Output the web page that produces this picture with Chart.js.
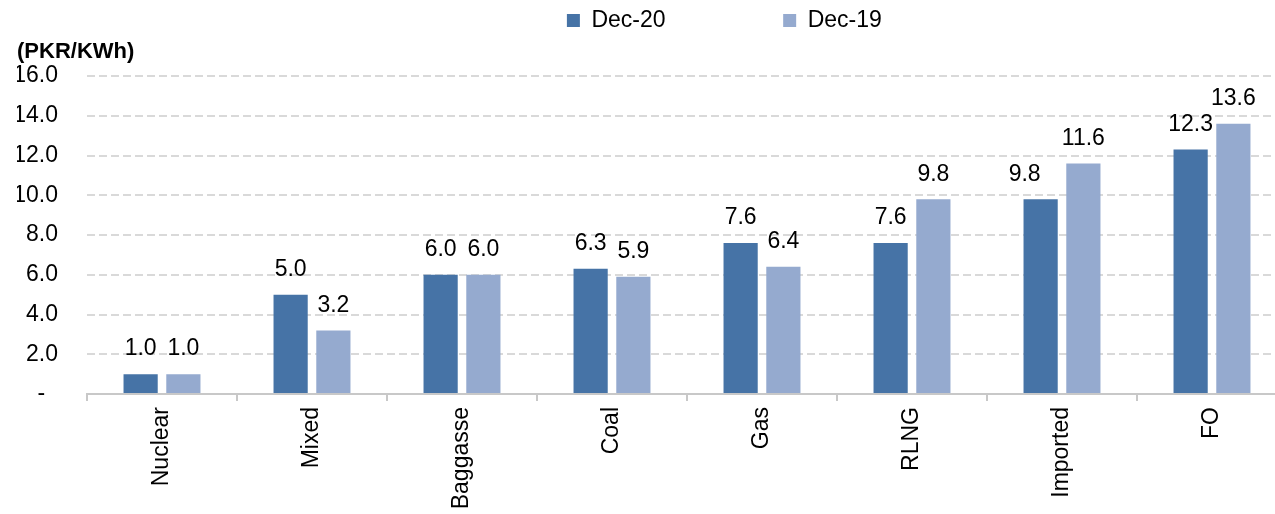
<!DOCTYPE html>
<html>
<head>
<meta charset="utf-8">
<script src="https://cdn.jsdelivr.net/npm/chart.js@4/dist/chart.umd.min.js"></script>
<style>
  html, body { margin: 0; padding: 0; background: #fff; overflow: hidden; }
  #wrap { width: 1287px; height: 514px; }
</style>
</head>
<body>
<div id="wrap"><canvas id="c" width="1287" height="514"></canvas></div>
<script>
const categories = ['Nuclear', 'Mixed', 'Baggasse', 'Coal', 'Gas', 'RLNG', 'Imported', 'FO'];
const seriesNames = ['Dec-20', 'Dec-19'];
const dec20 = [1.0, 5.0, 6.0, 6.3, 7.6, 7.6, 9.8, 12.3];
const dec19 = [1.0, 3.2, 6.0, 5.9, 6.4, 9.8, 11.6, 13.6];
const yTickLabels = ['-', '2.0', '4.0', '6.0', '8.0', '10.0', '12.0', '14.0', '16.0'];
const unitLabel = '(PKR/KWh)';

const FONT = 'Liberation Sans, Arial, sans-serif';
const FS = 23;
const darkBlue = '#4673A6';
const lightBlue = '#95AACF';

const valueLabels = {
  id: 'valueLabels',
  afterDatasetsDraw(chart, args, opts) {
    const ctx = chart.ctx;
    ctx.save();
    ctx.font = FS + 'px ' + FONT;
    ctx.fillStyle = '#000';
    ctx.textAlign = 'center';
    ctx.textBaseline = 'middle';
    chart.data.datasets.forEach((ds, di) => {
      const meta = chart.getDatasetMeta(di);
      meta.data.forEach((bar, i) => {
        const shift = (opts.shifts && opts.shifts[di + '-' + i]) || 0;
        ctx.fillText(ds.data[i].toFixed(1), bar.x + shift, bar.y - 25);
      });
    });
    ctx.restore();
  }
};

const PAD_SPACE = ' ';
new Chart(document.getElementById('c'), {
  type: 'bar',
  data: {
    labels: categories,
    datasets: [
      { label: seriesNames[0], data: dec20, backgroundColor: darkBlue, borderWidth: 0 },
      { label: seriesNames[1], data: dec19, backgroundColor: lightBlue, borderWidth: 0 }
    ]
  },
  plugins: [valueLabels],
  options: {
    responsive: false,
    animation: false,
    devicePixelRatio: 1,
    datasets: { bar: { barPercentage: 0.8, categoryPercentage: 0.57 } },
    layout: { padding: { left: 17, right: 0, top: 0, bottom: 0 } },
    plugins: {
      valueLabels: { shifts: { '0-6': -16 } },
      tooltip: { enabled: false },
      legend: {
        display: true,
        position: 'top',
        align: 'end',
        weight: 3000,
        labels: {
          font: { family: FONT, size: FS },
          color: '#000',
          boxWidth: 13,
          boxHeight: 13,
          padding: 9,
          generateLabels(chart) {
            const items = Chart.defaults.plugins.legend.labels.generateLabels(chart);
            items.forEach((it, i) => {
              it.lineWidth = 0;
              it.text = it.text + PAD_SPACE.repeat(i === 0 ? 17 : 62);
            });
            return items;
          }
        }
      },
      title: {
        display: true,
        text: unitLabel,
        align: 'start',
        color: '#000',
        font: { family: FONT, size: 22, weight: 'bold', lineHeight: 1 },
        padding: { top: -1, bottom: 13 }
      }
    },
    scales: {
      x: {
        afterFit(scale) { scale.height = 120; },
        border: { display: true, color: '#c8c8c8', width: 2 },
        grid: { offset: true, drawOnChartArea: false, drawTicks: true, tickLength: 7, color: '#c8c8c8', lineWidth: 2 },
        ticks: {
          autoSkip: false,
          minRotation: 90,
          maxRotation: 90,
          padding: 6,
          color: '#000',
          font: { family: FONT, size: FS }
        }
      },
      y: {
        min: 0,
        max: 16,
        afterFit(scale) { scale.width = 70; },
        border: { display: false, dash: [8, 4] },
        grid: {
          drawTicks: false,
          color: (c) => (c.tick && c.tick.value === 0) ? 'rgba(0,0,0,0)' : '#d9d9d9',
          lineWidth: 2
        },
        ticks: {
          stepSize: 2,
          padding: 29,
          color: '#000',
          font: { family: FONT, size: FS },
          callback: (v, i) => (i === 0 ? yTickLabels[0] + '  ' : yTickLabels[i])
        }
      }
    }
  }
});
</script>
</body>
</html>
